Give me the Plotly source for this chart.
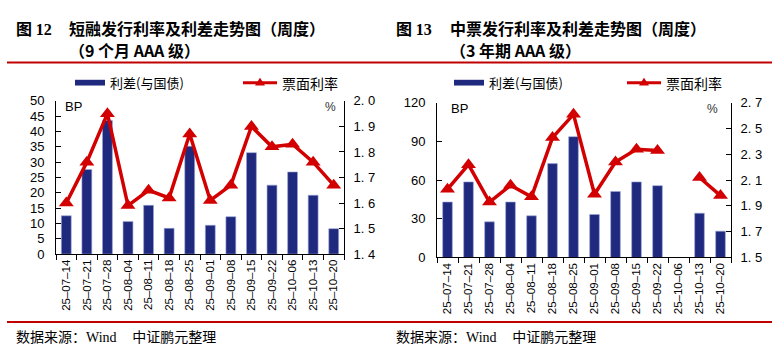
import plotly.graph_objects as go

# ---------------- data ----------------
dates = ["25-07-14", "25-07-21", "25-07-28", "25-08-04", "25-08-11", "25-08-18", "25-08-25",
         "25-09-01", "25-09-08", "25-09-15", "25-09-22", "25-10-06", "25-10-13", "25-10-20"]
date_labels = [d.replace("-", "–") for d in dates]

cp_spread = [12.5, 27.6, 43.6, 10.6, 15.9, 8.4, 35.2, 9.4, 12.2, 33.1, 22.5, 26.8, 19.2, 8.3]
cp_rate = [1.60, 1.76, 1.95, 1.59, 1.65, 1.62, 1.87, 1.61, 1.67, 1.90, 1.82, 1.83, 1.76, 1.67]

mtn_spread = [43.0, 58.6, 27.6, 43.0, 32.3, 72.8, 93.7, 33.3, 51.2, 58.6, 55.7, None, 34.3, 20.4]
mtn_rate = [2.03, 2.22, 1.93, 2.06, 1.97, 2.43, 2.61, 1.99, 2.24, 2.34, 2.33, None, 2.12, 1.98]

cp_left_ticks = [0, 5, 10, 15, 20, 25, 30, 35, 40, 45, 50]
cp_right_ticks = [1.4, 1.5, 1.6, 1.7, 1.8, 1.9, 2.0]
cp_right_labels = ["1. 4", "1. 5", "1. 6", "1. 7", "1. 8", "1. 9", "2. 0"]
mtn_left_ticks = [0, 30, 60, 90, 120]
mtn_right_ticks = [1.5, 1.7, 1.9, 2.1, 2.3, 2.5, 2.7]
mtn_right_labels = ["1. 5", "1. 7", "1. 9", "2. 1", "2. 3", "2. 5", "2. 7"]

fig_left_no = "图 12"
fig_right_no = "图 13"
title_left = "短融发行利率及利差走势图（周度）"
sub_left = "（9 个月 AAA 级）"
title_right = "中票发行利率及利差走势图（周度）"
sub_right = "（3 年期 AAA 级）"
legend_bar = "利差(与国债)"
legend_line = "票面利率"
source_head = "数据来源："
source_wind = "Wind"
source_tail = "中证鹏元整理"

# ---------------- style ----------------
W, H = 784, 355
BAR = "#1F2A7E"
RED = "#D20000"
FONT = "Liberation Sans, Arial, sans-serif"
SERIF = "Liberation Serif, Times New Roman, serif"
CJK = "Noto Sans CJK SC"

def px(x):
    return x / W

def py(y):
    return 1 - y / H

fig = go.Figure()

# left chart
fig.add_trace(go.Bar(x=dates, y=cp_spread, marker=dict(color=BAR, line=dict(color="#9aa6d6", width=0.6)),
                     width=0.48, xaxis="x", yaxis="y", showlegend=False))
fig.add_trace(go.Scatter(x=dates, y=cp_rate, mode="lines+markers",
                         line=dict(color=RED, width=3.5),
                         marker=dict(symbol="triangle-up", size=13, color=RED),
                         xaxis="x", yaxis="y2", showlegend=False))
# right chart
fig.add_trace(go.Bar(x=dates, y=mtn_spread, marker=dict(color=BAR, line=dict(color="#9aa6d6", width=0.6)),
                     width=0.46, xaxis="x2", yaxis="y3", showlegend=False))
fig.add_trace(go.Scatter(x=dates, y=mtn_rate, mode="lines+markers", connectgaps=False,
                         line=dict(color=RED, width=3.5),
                         marker=dict(symbol="triangle-up", size=13, color=RED),
                         xaxis="x2", yaxis="y4", showlegend=False))

xcommon = dict(type="category", showline=True, linecolor="black", linewidth=1,
               ticks="outside", tickson="boundaries", ticklen=5, tickcolor="black",
               tickangle=-90, tickfont=dict(family=FONT, size=11.5, color="black"),
               showgrid=False, zeroline=False, range=[-0.5, 13.5],
               tickvals=dates, ticktext=date_labels, fixedrange=True)
ycommon = dict(showline=True, linecolor="black", linewidth=1, ticks="inside", ticklen=5,
               tickcolor="black", showgrid=False, zeroline=False,
               tickfont=dict(family=FONT, size=13, color="black"), fixedrange=True)

L_dom_x = [px(56), px(344)]
L_dom_y = [py(258), py(98)]
R_dom_x = [px(437), px(731)]
R_dom_y = [py(261.5), py(100)]

fig.update_layout(
    width=W, height=H, autosize=False,
    margin=dict(l=0, r=0, t=0, b=0),
    paper_bgcolor="white", plot_bgcolor="rgba(0,0,0,0)",
    showlegend=False,
    xaxis=dict(domain=L_dom_x, anchor="y", **xcommon),
    yaxis=dict(domain=L_dom_y, anchor="x", range=[0, 50], tickvals=cp_left_ticks,
               ticklabelstandoff=8, **ycommon),
    yaxis2=dict(overlaying="y", anchor="x", side="right", range=[1.4, 2.0],
                tickvals=cp_right_ticks, ticktext=cp_right_labels, ticklabelstandoff=6, **ycommon),
    xaxis2=dict(domain=R_dom_x, anchor="y3", **xcommon),
    yaxis3=dict(domain=R_dom_y, anchor="x2", range=[0, 120], tickvals=mtn_left_ticks,
                ticklabelstandoff=8, **ycommon),
    yaxis4=dict(overlaying="y3", anchor="x2", side="right", range=[1.5, 2.7],
                tickvals=mtn_right_ticks, ticktext=mtn_right_labels, ticklabelstandoff=6, **ycommon),
)

shapes = []
annotations = []

def text(x, y, s, size=14, family=CJK, color="black", xanchor="left", bold=False):
    annotations.append(dict(x=px(x), y=py(y), xref="paper", yref="paper", text=(f"<b>{s}</b>" if bold else s),
                            showarrow=False, xanchor=xanchor, yanchor="middle",
                            font=dict(family=family, size=size, color=color)))

def fig_no(x, y, s):
    head, num = s.split(" ")
    annotations.append(dict(x=px(x), y=py(y), xref="paper", yref="paper",
                            text=f"<b>{head} <span style='font-family:{SERIF}'>{num}</span></b>",
                            showarrow=False, xanchor="left", yanchor="middle",
                            font=dict(family=CJK, size=16, color="black")))

# titles
fig_no(14, 22, fig_left_no)
text(67, 22, title_left, size=16, bold=True)
text(67, 45, sub_left, size=16, bold=True)
fig_no(394, 22, fig_right_no)
text(448, 22, title_right, size=16, bold=True)
text(448, 45, sub_right, size=16, bold=True)

# red rules
for yy in (58, 329):
    shapes.append(dict(type="line", xref="paper", yref="paper", x0=px(7), x1=px(772),
                       y0=py(yy), y1=py(yy), line=dict(color="#C00000", width=2)))

# legends
def legend(xb, xl, ty):
    shapes.append(dict(type="rect", xref="paper", yref="paper", x0=px(xb), x1=px(xb + 30),
                       y0=py(ty + 3), y1=py(ty - 3), fillcolor=BAR, line=dict(width=0)))
    text(xb + 33, ty, legend_bar, size=13)
    shapes.append(dict(type="line", xref="paper", yref="paper", x0=px(xl), x1=px(xl + 34),
                       y0=py(ty), y1=py(ty), line=dict(color=RED, width=3)))
    c = xl + 17
    shapes.append(dict(type="path", xref="paper", yref="paper",
                       path=f"M {px(c-5)},{py(ty+3)} L {px(c+5)},{py(ty+3)} L {px(c)},{py(ty-5)} Z",
                       fillcolor=RED, line=dict(width=0)))
    text(xl + 37, ty, legend_line, size=14)

legend(75, 243, 79)
legend(454, 627, 79)

# axis unit labels
text(63, 104, "BP", size=13, family=FONT)
text(338, 104, "%", size=12, family=FONT, color="#333", xanchor="right")
text(449, 106, "BP", size=13, family=FONT)
text(720, 106, "%", size=12, family=FONT, color="#333", xanchor="right")

# source
source_html = (f"{source_head}<span style='font-family:{SERIF}'>{source_wind}</span>"
               f"&nbsp;&nbsp;&nbsp;&nbsp;&nbsp;{source_tail}")
text(14, 344, source_html, size=14)
text(394, 344, source_html, size=14)

fig.update_layout(shapes=shapes, annotations=annotations)
fig.write_html("out.html", config={"displayModeBar": False, "staticPlot": True},
               post_script="document.body.style.margin='0';document.body.style.overflow='hidden';")
